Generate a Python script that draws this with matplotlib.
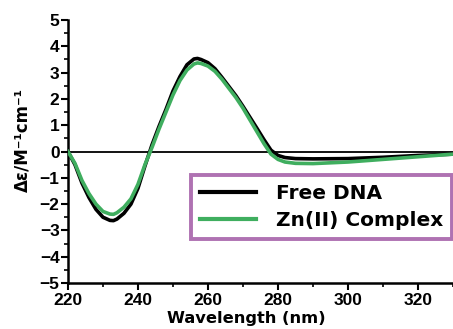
import matplotlib
matplotlib.use('Agg')
import matplotlib.pyplot as plt
from matplotlib.ticker import MultipleLocator

# длины волн (нм) и значения CD-спектров
wl = [220, 222, 224, 226, 228, 230, 232, 233, 234, 236, 238, 240, 242, 244,
      246, 248, 250, 252, 254, 256, 257, 258, 260, 262, 264, 266, 268, 270,
      272, 274, 276, 278, 280, 282, 285, 290, 300, 310, 320, 330]
free_dna = [0, -0.5, -1.2, -1.75, -2.2, -2.5, -2.62, -2.63, -2.57, -2.35,
            -2.0, -1.4, -0.55, 0.25, 0.95, 1.6, 2.3, 2.85, 3.3, 3.52, 3.54,
            3.5, 3.38, 3.15, 2.82, 2.47, 2.12, 1.72, 1.3, 0.88, 0.45, 0.05,
            -0.15, -0.23, -0.27, -0.28, -0.27, -0.22, -0.15, -0.1]
zn_complex = [0, -0.45, -1.1, -1.6, -2.0, -2.28, -2.38, -2.39, -2.33, -2.12,
              -1.8, -1.25, -0.5, 0.15, 0.85, 1.5, 2.15, 2.7, 3.1, 3.33, 3.37,
              3.35, 3.25, 3.05, 2.75, 2.4, 2.05, 1.65, 1.2, 0.75, 0.3, -0.1,
              -0.3, -0.4, -0.45, -0.46, -0.4, -0.3, -0.2, -0.1]

plt.rcParams['font.family'] = ['Liberation Sans', 'DejaVu Sans']
plt.rcParams['font.weight'] = 'bold'
wide = ['DejaVu Sans']

fig = plt.figure(figsize=(4.53, 3.29), dpi=100)
ax = fig.add_axes([0.150, 0.140, 0.850, 0.799])

ax.axhline(0, color='black', lw=1.3, zorder=1)
ax.plot(wl, free_dna, color='black', lw=2.6, label='Free DNA', zorder=2)
ax.plot(wl, zn_complex, color='#3fae5f', lw=2.6, label='Zn(II) Complex', zorder=3)

ax.set_xlim(220, 330)
ax.set_ylim(-5, 5)
ax.xaxis.set_major_locator(MultipleLocator(20))
ax.xaxis.set_minor_locator(MultipleLocator(10))
ax.yaxis.set_major_locator(MultipleLocator(1))
ax.yaxis.set_minor_locator(MultipleLocator(0.5))

for s in ['top', 'right']:
    ax.spines[s].set_visible(False)
for s in ['left', 'bottom']:
    ax.spines[s].set_linewidth(1.8)

ax.tick_params(which='major', direction='out', length=5, width=1.5,
               labelsize=12.5, pad=1)
ax.tick_params(axis='x', which='major', pad=2)
ax.tick_params(which='minor', direction='out', length=3, width=1.2)

ax.set_xlabel('Wavelength (nm)', fontsize=11.7, fontweight='bold', family=wide)
ax.set_ylabel('Δε/M⁻¹cm⁻¹', fontsize=12, fontweight='bold', family=wide)
ax.xaxis.set_label_coords(0.464, -0.106)
ax.yaxis.set_label_coords(-0.094, 0.545)

leg = ax.legend(loc='upper right', bbox_to_anchor=(0.997, 0.411),
                prop={'family': wide, 'weight': 'bold', 'size': 14.5},
                frameon=True, fancybox=False,
                handlelength=2.8, handletextpad=0.95, borderpad=0.45,
                labelspacing=0.42, borderaxespad=0)
leg.get_frame().set_edgecolor('#9b4f9f')
leg.get_frame().set_linewidth(2.8)
for h in leg.get_lines():
    h.set_linewidth(3)

fig.savefig('out.png', dpi=100)
